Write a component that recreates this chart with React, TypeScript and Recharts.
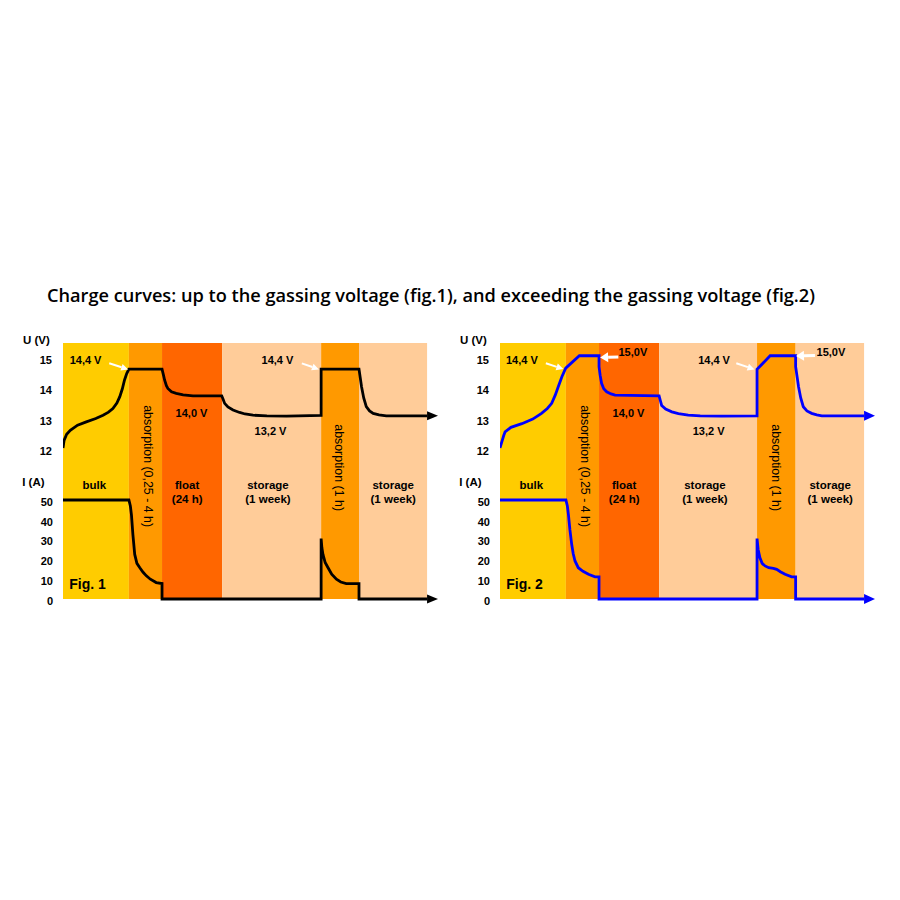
import React from "react";
import {
  LineChart,
  Line,
  XAxis,
  YAxis,
  ReferenceArea,
  ReferenceDot,
  ReferenceLine,
} from "recharts";

const FONT = '"Liberation Sans", Arial, Helvetica, sans-serif';
const TITLE = "Charge curves: up to the gassing voltage (fig.1), and exceeding the gassing voltage (fig.2)";

// phase colours
const phaseColors: Record<string, string> = {
  bulk: "#ffcc00",
  absorption: "#ff9900",
  float: "#ff6600",
  storage: "#ffcc99",
};
const phases = ["bulk", "absorption", "float", "storage", "absorption", "storage"];

// phase edges on the (schematic) time axis
const fig1Edges = [0, 18.1, 27.2, 43.7, 70.9, 81.3, 100];
const fig2Edges = [0, 18.1, 27.2, 43.7, 70.6, 81.2, 100];

const voltageTicks = [12, 13, 14, 15];
const currentTicks = [0, 10, 20, 30, 40, 50];

// [time, volts]
const fig1Voltage: [number, number][] = [
  [0, 12.1], [0.3, 12.35], [1, 12.55], [2, 12.68], [4, 12.85], [6.4, 12.96], [9, 13.07],
  [11, 13.18], [12.5, 13.28], [13.7, 13.4], [14.8, 13.58], [15.6, 13.79], [16.3, 14.05],
  [16.9, 14.34], [17.5, 14.55], [18.1, 14.7], [27.2, 14.7], [27.6, 14.5], [27.9, 14.34],
  [28.4, 14.15], [28.8, 14.06], [29.8, 13.95], [31.1, 13.9], [33, 13.85], [35.7, 13.82],
  [43.6, 13.82], [44, 13.7], [44.4, 13.57], [45.3, 13.45], [46.7, 13.35], [48.5, 13.27],
  [50, 13.22], [52.2, 13.18], [56, 13.16], [61.4, 13.15], [70.9, 13.17], [70.9, 14.7],
  [81.3, 14.7], [81.6, 14.45], [82, 14.12], [82.6, 13.75], [83.3, 13.46], [84.2, 13.32],
  [85.2, 13.24], [86.8, 13.19], [88.8, 13.16], [100, 13.16],
];

// [time, amps]
const fig1Current: [number, number][] = [
  [0, 50], [18.1, 50], [18.5, 47], [18.8, 42.5], [19.2, 32.5], [19.7, 22.5], [20.3, 18],
  [21.1, 15.8], [22, 13.5], [22.9, 11.7], [24, 10], [25.6, 8.3], [27.2, 7.8], [27.2, 0],
  [70.9, 0], [70.9, 30.5], [71.1, 26], [71.4, 22.5], [72, 18.5], [72.8, 15.8], [73.8, 12.5],
  [75.1, 10], [76.3, 8.6], [77.8, 7.8], [81.3, 7.8], [81.3, 0], [100, 0],
];

const fig2Voltage: [number, number][] = [
  [0, 12.1], [0.5, 12.3], [1, 12.5], [1.4, 12.63], [3, 12.78], [6, 12.9], [9, 13.05],
  [11.4, 13.24], [13, 13.4], [14.2, 13.57], [15.2, 13.85], [16, 14.12], [17, 14.45],
  [18.05, 14.73], [21.8, 15.14], [27.2, 15.14], [27.2, 14.78], [27.5, 14.5], [27.9, 14.23],
  [28.5, 14.05], [29.3, 13.95], [30.5, 13.88], [31.6, 13.84], [43.7, 13.82], [44, 13.68],
  [44.4, 13.5], [45.5, 13.38], [47.2, 13.29], [49, 13.23], [51.7, 13.18], [55, 13.16],
  [60.9, 13.15], [70.6, 13.16], [70.6, 14.69], [74.2, 15.14], [81.2, 15.14], [81.2, 14.78],
  [81.6, 14.45], [82, 14.12], [82.6, 13.75], [83.3, 13.46], [84.3, 13.32], [85.6, 13.24],
  [87, 13.19], [88.4, 13.16], [100, 13.16],
];

const fig2Current: [number, number][] = [
  [0, 50], [18.1, 50], [18.5, 47], [18.8, 42.5], [19.2, 35], [19.7, 27.5], [20.1, 23],
  [20.6, 19.2], [21.5, 15.8], [22.8, 14], [24.3, 12.5], [26.1, 11.2], [27.2, 11.2], [27.2, 0],
  [70.6, 0], [70.6, 30.5], [70.9, 25], [71.4, 20.8], [72, 18], [72.8, 16.7], [73.8, 15.8],
  [75.1, 15.5], [76, 15], [77, 13.8], [78.3, 12.5], [80.1, 11.2], [81.2, 11.2], [81.2, 0],
  [100, 0],
];

// phase names inside the bands: [time, volts, lines]
const phaseLabels: [number, number, string[]][] = [
  [8.6, 10.88, ["bulk"]],
  [34.1, 10.88, ["float", "(24 h)"]],
  [56.3, 10.88, ["storage", "(1 week)"]],
  [90.7, 10.88, ["storage", "(1 week)"]],
];
const absorptionLabels: [number, number, string][] = [
  [23.4, 11.5, "absorption (0,25 - 4 h)"],
  [75.8, 11.45, "absorption (1 h)"],
];

const fig1Values: [number, number, string][] = [
  [6.2, 15.0, "14,4 V"],
  [58.9, 15.0, "14,4 V"],
  [35.3, 13.25, "14,0 V"],
  [57.0, 12.66, "13,2 V"],
];
const fig2Values: [number, number, string][] = [
  [6.0, 15.0, "14,4 V"],
  [58.8, 15.0, "14,4 V"],
  [36.5, 15.26, "15,0V"],
  [90.9, 15.26, "15,0V"],
  [35.3, 13.25, "14,0 V"],
  [57.3, 12.66, "13,2 V"],
];

// white pointer arrows: [fromT, fromU, toT, toU, big]
const fig1Pointers: [number, number, number, number, boolean][] = [
  [12.7, 14.89, 17.9, 14.69, false],
  [65.6, 14.89, 70.3, 14.69, false],
];
const fig2Pointers: [number, number, number, number, boolean][] = [
  [12.6, 14.89, 17.4, 14.7, false],
  [64.9, 14.89, 69.9, 14.69, false],
  [32.5, 15.1, 27.5, 15.08, true],
  [86.5, 15.15, 81.3, 15.13, true],
];

const toPoints = (rows: [number, number][]) => rows.map(([t, y]) => ({ t, y }));

function tickText(shift: number) {
  return (p: any) => (
    <text
      x={p.x}
      y={p.y + shift}
      textAnchor="end"
      dominantBaseline="central"
      fontFamily={FONT}
      fontSize={11}
      fontWeight={700}
      fill="#000"
    >
      {p.payload.value}
    </text>
  );
}

function arrowDot(count: number, color: string, half: number, len: number) {
  return (props: any) => {
    const { cx, cy, index } = props;
    if (index !== count - 1) return <g key={`d${index}`} />;
    return (
      <polygon
        key="head"
        points={`${cx},${cy - half} ${cx + len},${cy} ${cx},${cy + half}`}
        fill={color}
      />
    );
  };
}

function pointerShape(big: boolean) {
  return (p: any) => {
    const { x1, y1, x2, y2 } = p;
    const a = Math.atan2(y2 - y1, x2 - x1);
    const len = big ? 8 : 7;
    const half = big ? 5 : 3.5;
    const bx = x2 - len * Math.cos(a);
    const by = y2 - len * Math.sin(a);
    const nx = -Math.sin(a) * half;
    const ny = Math.cos(a) * half;
    return (
      <g>
        <line x1={x1} y1={y1} x2={bx} y2={by} stroke="#fff" strokeWidth={big ? 3 : 2} />
        <polygon points={`${x2},${y2} ${bx + nx},${by + ny} ${bx - nx},${by - ny}`} fill="#fff" />
      </g>
    );
  };
}

function textShape(lines: string[], size: number, weight: number, anchor = "middle") {
  return (p: any) => (
    <text
      x={p.cx}
      y={p.cy}
      textAnchor={anchor}
      dominantBaseline="central"
      fontFamily={FONT}
      fontSize={size}
      fontWeight={weight}
      fill="#000"
    >
      {lines.map((l, i) => (
        <tspan key={i} x={p.cx} dy={i === 0 ? 0 : size * 1.18}>
          {l}
        </tspan>
      ))}
    </text>
  );
}

function rotatedShape(text: string) {
  return (p: any) => (
    <text
      x={p.cx}
      y={p.cy}
      textAnchor="middle"
      dominantBaseline="central"
      fontFamily={FONT}
      fontSize={12.4}
      fill="#000"
      transform={`rotate(90 ${p.cx} ${p.cy})`}
    >
      {text}
    </text>
  );
}

interface FigProps {
  left: number;
  edges: number[];
  voltage: [number, number][];
  current: [number, number][];
  color: string;
  values: [number, number, string][];
  pointers: [number, number, number, number, boolean][];
  figLabel: string;
}

function ChargeFigure({ left, edges, voltage, current, color, values, pointers, figLabel }: FigProps) {
  const uData = toPoints(voltage);
  const iData = toPoints(current);
  const blue = color !== "#000000";
  return (
    <div style={{ position: "absolute", left, top: 330 }}>
      <LineChart width={448} height={279} margin={{ top: 13, right: 10, bottom: 10, left: 61 }}>
        <XAxis dataKey="t" type="number" domain={[0, 103]} allowDataOverflow hide />
        <YAxis
          yAxisId="u"
          type="number"
          domain={[7.12, 15.56]}
          ticks={voltageTicks}
          interval={0}
          width={1}
          axisLine={false}
          tickLine={false}
          tickSize={0}
          tickMargin={10}
          tick={tickText(0)}
        />
        <YAxis
          yAxisId="i"
          type="number"
          domain={[0, 129.3]}
          ticks={currentTicks}
          interval={0}
          width={1}
          axisLine={false}
          tickLine={false}
          tickSize={0}
          tickMargin={10}
          tick={tickText(1.8)}
        />
        {phases.map((ph, k) => (
          <ReferenceArea
            key={`band${k}`}
            yAxisId="u"
            x1={edges[k]}
            x2={edges[k + 1]}
            fill={phaseColors[ph]}
            fillOpacity={1}
            stroke="none"
          />
        ))}
        {phaseLabels.map(([t, u, lines], k) => (
          <ReferenceDot key={`pl${k}`} yAxisId="u" x={t} y={u} r={0} ifOverflow="visible" shape={textShape(lines, 11.5, 700)} />
        ))}
        {absorptionLabels.map(([t, u, text], k) => (
          <ReferenceDot key={`al${k}`} yAxisId="u" x={t} y={u} r={0} ifOverflow="visible" shape={rotatedShape(text)} />
        ))}
        {values.map(([t, u, text], k) => (
          <ReferenceDot key={`vl${k}`} yAxisId="u" x={t} y={u} r={0} ifOverflow="visible" shape={textShape([text], 11, 700)} />
        ))}
        <ReferenceDot yAxisId="i" x={1.7} y={7.6} r={0} ifOverflow="visible" shape={textShape([figLabel], 14, 700, "start")} />
        <ReferenceDot yAxisId="u" x={-11} y={15.66} r={0} ifOverflow="visible" shape={textShape(["U (V)"], 11.5, 700, "start")} />
        <ReferenceDot yAxisId="i" x={-11.2} y={59.1} r={0} ifOverflow="visible" shape={textShape(["I (A)"], 11.5, 700, "start")} />
        <Line
          yAxisId="u"
          data={uData}
          dataKey="y"
          type="linear"
          stroke={color}
          strokeWidth={2.8}
          dot={arrowDot(uData.length, color, blue ? 5 : 4.5, 11)}
          activeDot={false}
          isAnimationActive={false}
        />
        <Line
          yAxisId="i"
          data={iData}
          dataKey="y"
          type="linear"
          stroke={color}
          strokeWidth={2.8}
          dot={arrowDot(iData.length, color, blue ? 5 : 4.5, 11)}
          activeDot={false}
          isAnimationActive={false}
        />
        {pointers.map(([t1, u1, t2, u2, big], k) => (
          <ReferenceLine
            key={`pt${k}`}
            yAxisId="u"
            segment={[{ x: t1, y: u1 }, { x: t2, y: u2 }]}
            ifOverflow="visible"
            shape={pointerShape(big)}
          />
        ))}
      </LineChart>
    </div>
  );
}

export default function App() {
  return (
    <div style={{ position: "absolute", left: 0, top: 0, width: 900, height: 900, background: "#fff" }}>
      <svg width={900} height={320} style={{ position: "absolute", left: 0, top: 0 }}>
        <text
          x={47}
          y={302}
          fontFamily='"Open Sans", "Noto Sans", sans-serif'
          fontWeight={600}
          fontSize={17.5}
          fill="#000"
          textLength={768}
          lengthAdjust="spacingAndGlyphs"
        >
          {TITLE}
        </text>
      </svg>
      <ChargeFigure
        left={0}
        edges={fig1Edges}
        voltage={fig1Voltage}
        current={fig1Current}
        color="#000000"
        values={fig1Values}
        pointers={fig1Pointers}
        figLabel="Fig. 1"
      />
      <ChargeFigure
        left={437}
        edges={fig2Edges}
        voltage={fig2Voltage}
        current={fig2Current}
        color="#0000ff"
        values={fig2Values}
        pointers={fig2Pointers}
        figLabel="Fig. 2"
      />
    </div>
  );
}
